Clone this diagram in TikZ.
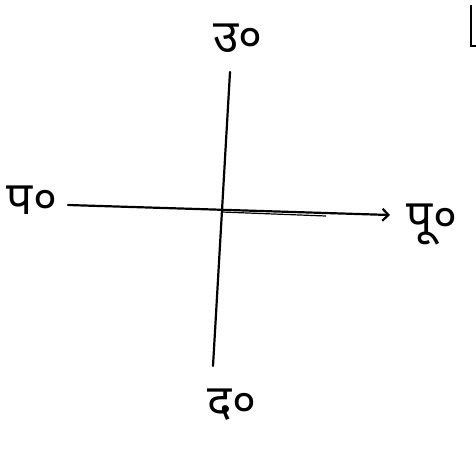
\documentclass[tikz,border=0pt]{standalone}
\usepackage{fontspec}
\usetikzlibrary{arrows.meta}
\newfontfamily\devfont[Script=Devanagari]{Noto Sans}
\begin{document}
\begin{tikzpicture}[x=1pt,y=-1pt,
  lbl/.style={font=\devfont\fontsize{46}{46}\selectfont, inner sep=0pt},
  axis/.style={line width=2.2pt, line cap=round}]
\useasboundingbox (0,0) rectangle (476,448);
\node[lbl] (n) at (238,38) {उ०};
\node[lbl] (w) at (32,200) {प०};
\node[lbl] (e) at (432,224) {पू०};
\node[lbl] (s) at (232,405) {द०};
\coordinate (vt) at (230,72);
\coordinate (vb) at (213,366);
\coordinate (hl) at (68,205);
\coordinate (hr) at (390,215);
\draw[axis] (vt) -- (vb);
\draw[axis, -{Straight Barb[length=6pt]}] (hl) -- (hr);
\coordinate (d1) at (222,212);
\coordinate (d2) at (326,216);
\draw[line width=1.2pt] (d1) -- (d2);
\coordinate (b1) at (471,5);
\coordinate (b2) at (471,46);
\draw[line width=2.2pt] (b1) -- (b2) -- ++(5,0);
\end{tikzpicture}
\end{document}
